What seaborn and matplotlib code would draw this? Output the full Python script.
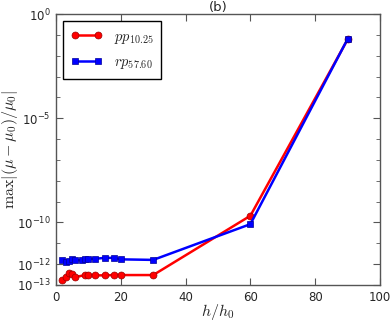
import matplotlib
matplotlib.use('Agg')
import matplotlib.pyplot as plt
import matplotlib.ticker as mticker
import seaborn as sns
import pandas as pd

# data
h_pp = [2, 3, 4, 5, 6, 9, 10, 12, 15, 18, 20, 30, 60, 90]
err_pp = [1.7e-13, 2.4e-13, 3.6e-13, 3.2e-13, 2.4e-13, 3.0e-13, 3.0e-13, 2.9e-13,
          2.9e-13, 3.0e-13, 3.0e-13, 3.0e-13, 2.1e-10, 6.0e-2]
h_rp = [2, 3, 4, 5, 6, 8, 9, 10, 12, 15, 18, 20, 30, 60, 90]
err_rp = [1.5e-12, 1.3e-12, 1.4e-12, 1.8e-12, 1.6e-12, 1.5e-12, 1.8e-12, 1.8e-12,
          1.8e-12, 2.0e-12, 2.0e-12, 1.7e-12, 1.6e-12, 8.3e-11, 6.3e-2]
labels = [r'$pp_{10.25}$', r'$rp_{57.60}$']
ytick_vals = [1e-13, 1e-12, 1e-10, 1e-5, 1e0]

sns.set_style('ticks')
plt.rcParams['mathtext.fontset'] = 'cm'
plt.rcParams['font.family'] = ['DejaVu Sans']
plt.rcParams['xtick.direction'] = 'in'
plt.rcParams['ytick.direction'] = 'in'

df_pp = pd.DataFrame({'h': h_pp, 'err': err_pp})
df_rp = pd.DataFrame({'h': h_rp, 'err': err_rp})

fig = plt.figure(figsize=(3.9, 3.25), dpi=100)
ax = fig.add_axes([56/390, 1-285/325, (380-56)/390, (285-14)/325])

sns.lineplot(data=df_pp, x='h', y='err', ax=ax, color='#ff0000', marker='o',
             markersize=5, markeredgecolor='#990000', markeredgewidth=0.5,
             linewidth=1.8, label=labels[0])
sns.lineplot(data=df_rp, x='h', y='err', ax=ax, color='#0000ff', marker='s',
             markersize=5, markeredgecolor='#000099', markeredgewidth=0.5,
             linewidth=1.8, label=labels[1])

ax.set_yscale('log')
ax.set_xlim(0, 100)
ax.set_ylim(1e-13, 1e0)
ax.set_yticks(ytick_vals)
ax.yaxis.set_minor_locator(mticker.LogLocator(base=10, subs=(1.0,), numticks=30))
ax.yaxis.set_minor_formatter(mticker.NullFormatter())
ax.set_xticks([0, 20, 40, 60, 80, 100])

for s in ax.spines.values():
    s.set_visible(True)
    s.set_color('#555555')
    s.set_linewidth(1.0)
ax.tick_params(which='both', top=True, right=True, color='#555555', labelsize=8.5, pad=4)
ax.tick_params(which='major', length=5)
ax.tick_params(which='minor', length=3)

ax.set_xlabel(r'$h/h_0$', fontsize=11.5, labelpad=-1)
ax.set_ylabel(r'$\max|(\mu - \mu_0)/\mu_0|$', fontsize=11.5)
ax.yaxis.set_label_coords(-0.11, 0.5)
ax.set_title('(b)', fontsize=9.5, pad=1)

leg = ax.legend(loc='upper left', numpoints=2, fontsize=10.5, frameon=True,
                fancybox=False, edgecolor='black', framealpha=1,
                handlelength=2.2, borderpad=0.5, labelspacing=0.6)
leg.get_frame().set_linewidth(1.0)

fig.savefig('out.png', dpi=100)
